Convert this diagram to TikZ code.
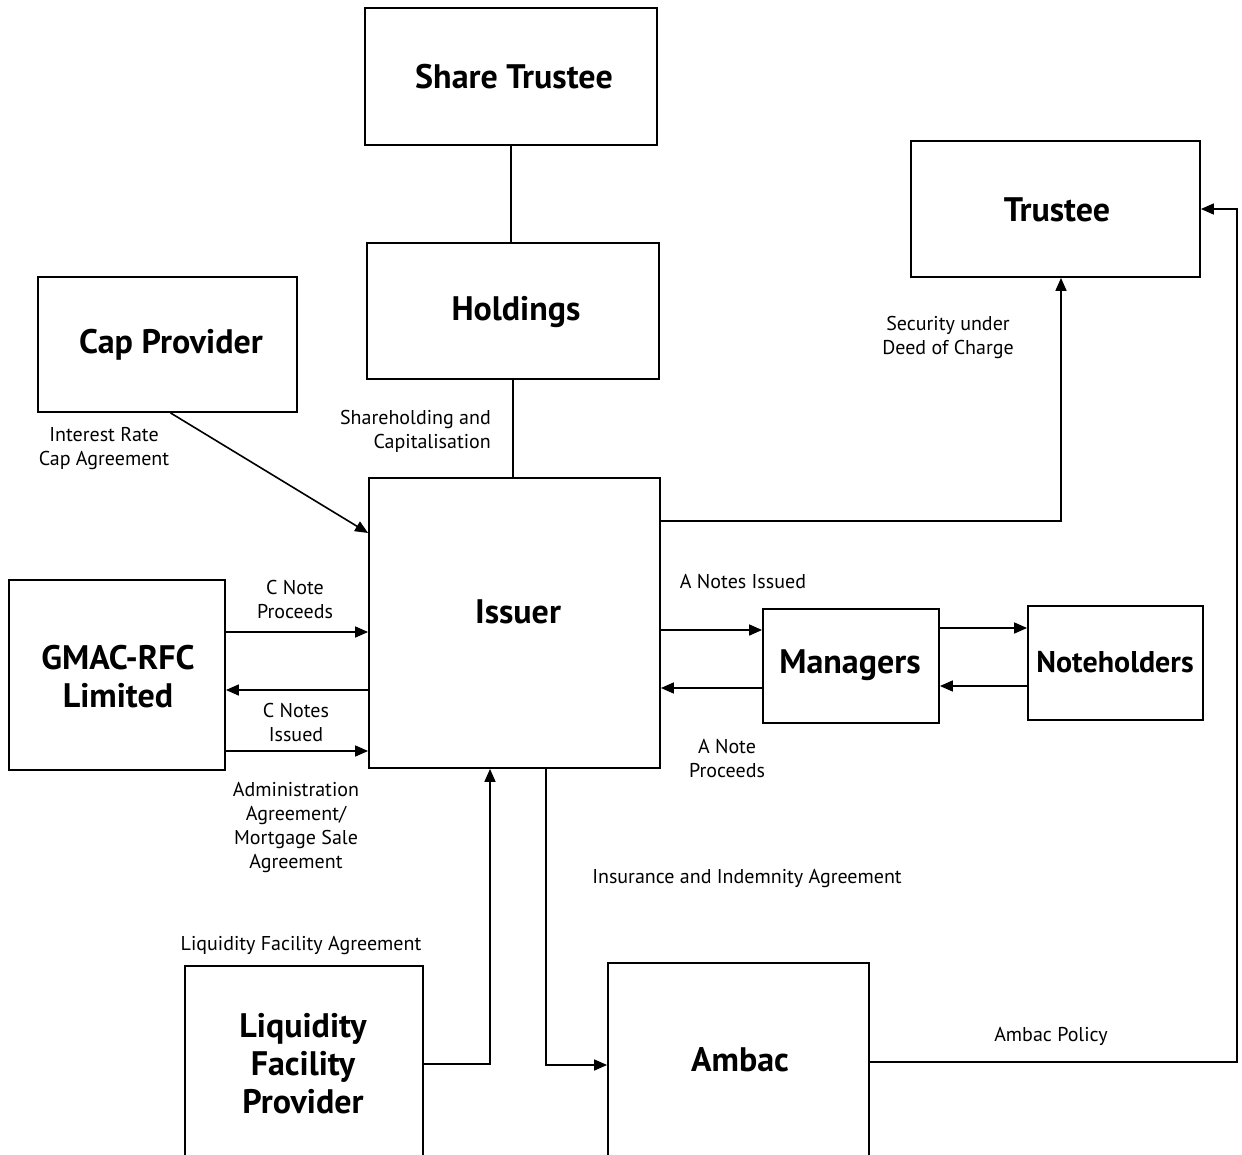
\documentclass[tikz,border=0pt]{standalone}
\usepackage{fontspec}
\setmainfont{PT Sans}
\usetikzlibrary{arrows.meta}
\begin{document}
\begin{tikzpicture}[x=1pt,y=-1pt,
  box/.style={draw,line width=1.8pt,inner sep=0pt,align=center,font=\fontsize{34}{38}\selectfont\bfseries},
  bigtxt/.style={inner sep=0pt,align=center,font=\fontsize{34}{38}\selectfont\bfseries},
  lbl/.style={inner sep=0pt,align=center,font=\fontsize{20}{24}\selectfont},
  con/.style={line width=1.6pt},
  arr/.style={con,-{Triangle[length=13pt,width=11pt]}}]
\useasboundingbox (0,0) rectangle (1242,1154);
% boxes
\node[box,minimum width=292pt,minimum height=137pt] (sharetrustee) at (511,76.5) {};
\node[bigtxt] (tst) at (514,77) {Share Trustee};
\node[box,minimum width=292pt,minimum height=136pt] (holdings) at (513,311) {};
\node[bigtxt] (thol) at (516,312) {Holdings};
\node[box,minimum width=289pt,minimum height=136pt] (trustee) at (1055.5,209) {};
\node[bigtxt] (ttru) at (1057,210) {Trustee};
\node[box,minimum width=259pt,minimum height=135pt] (cap) at (167.5,344.5) {};
\node[bigtxt] (tcap) at (171,345) {Cap Provider};
\node[box,minimum width=291pt,minimum height=290pt] (issuer) at (514.5,623) {};
\node[bigtxt] (tiss) at (518,612) {Issuer};
\node[box,minimum width=216pt,minimum height=190pt] (gmac) at (117,675) {};
\node[bigtxt] (tgmac) at (118,677) {GMAC-RFC\\Limited};
\node[box,minimum width=176pt,minimum height=114pt] (managers) at (851,666) {};
\node[bigtxt] (tman) at (850,665) {Managers};
\node[box,minimum width=175pt,minimum height=114pt] (noteholders) at (1115.5,663) {};
\node[bigtxt,font=\fontsize{30}{38}\selectfont\bfseries] (tnot) at (1115,662) {Noteholders};
\node[box,minimum width=238pt,minimum height=196pt] (liq) at (304,1064) {};
\node[bigtxt] (tliq) at (303,1064) {Liquidity\\Facility\\Provider};
\node[box,minimum width=261pt,minimum height=197pt] (ambac) at (738.5,1061.5) {};
\node[bigtxt] (tamb) at (740,1060) {Ambac};
% levels
\coordinate (y533) at (0,533);
\coordinate (y521) at (0,521);
\coordinate (y632) at (0,632);
\coordinate (y690) at (0,690);
\coordinate (y751) at (0,751);
\coordinate (y630) at (0,630);
\coordinate (y688) at (0,688);
\coordinate (y628) at (0,628);
\coordinate (y686) at (0,686);
\coordinate (y1064) at (0,1064);
\coordinate (y1065) at (0,1065);
\coordinate (y1062) at (0,1062);
\coordinate (rx) at (1237,209);
% connectors
\draw[con] (sharetrustee.south) -- (sharetrustee.south |- holdings.north);
\draw[con] (holdings.south) -- (holdings.south |- issuer.north);
\draw[arr] ([xshift=3pt]cap.south) -- (issuer.west |- y533);
\draw[arr] (issuer.east |- y521) -| ([xshift=5.5pt]trustee.south);
\draw[arr] (gmac.east |- y632) -- (issuer.west |- y632);
\draw[arr] (issuer.west |- y690) -- (gmac.east |- y690);
\draw[arr] (gmac.east |- y751) -- (issuer.west |- y751);
\draw[arr] (issuer.east |- y630) -- (managers.west |- y630);
\draw[arr] (managers.west |- y688) -- (issuer.east |- y688);
\draw[arr] (managers.east |- y628) -- (noteholders.west |- y628);
\draw[arr] (noteholders.west |- y686) -- (managers.east |- y686);
\draw[arr] (liq.east |- y1064) -| ([xshift=-24.5pt]issuer.south);
\draw[arr] ([xshift=31.5pt]issuer.south) |- (ambac.west |- y1065);
\draw[arr] (ambac.east |- y1062) -| (rx) -- (trustee.east);
% labels
\node[lbl] (l1) at (104,449) {Interest Rate\\Cap Agreement};
\node[lbl,align=right,anchor=east] (l2) at (491,431) {Shareholding and\\Capitalisation};
\node[lbl] (l3) at (948,337) {Security under\\Deed of Charge};
\node[lbl] (l4) at (295,599) {C Note\\Proceeds};
\node[lbl] (l5) at (296,722) {C Notes\\Issued};
\node[lbl] (l6) at (296,827) {Administration\\Agreement/\\Mortgage Sale\\Agreement};
\node[lbl] (l7) at (743,582) {A Notes Issued};
\node[lbl] (l8) at (727,758) {A Note\\Proceeds};
\node[lbl] (l9) at (747,878) {Insurance and Indemnity Agreement};
\node[lbl] (l10) at (301,945) {Liquidity Facility Agreement};
\node[lbl] (l11) at (1051,1036) {Ambac Policy};
\end{tikzpicture}
\end{document}
